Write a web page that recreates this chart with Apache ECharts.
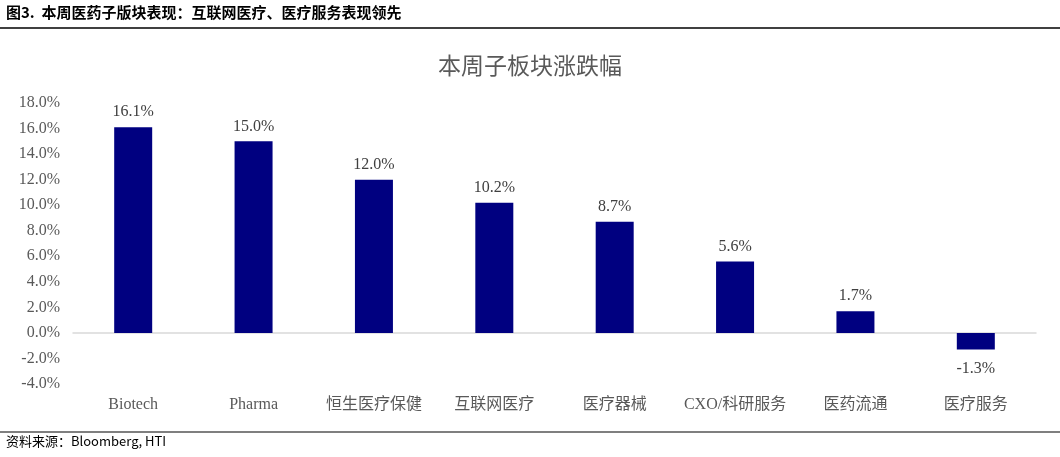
<!DOCTYPE html>
<html>
<head>
<meta charset="utf-8">
<script src="https://cdn.jsdelivr.net/npm/echarts@6/dist/echarts.min.js"></script>
<style>
  html, body { margin: 0; padding: 0; background: #fff; }
  #main { width: 1060px; height: 457px; }
</style>
</head>
<body>
<div id="main"></div>
<script>
var categories = ['Biotech', 'Pharma', '恒生医疗保健', '互联网医疗', '医疗器械', 'CXO/科研服务', '医药流通', '医疗服务'];
var weeklyChange = [16.1, 15.0, 12.0, 10.2, 8.7, 5.6, 1.7, -1.3];
var yMin = -4, yMax = 18, yStep = 2;

var serif = '"Liberation Serif", "Times New Roman", "Noto Sans CJK SC", serif';
var myChart = echarts.init(document.getElementById('main'));

var option = {
    backgroundColor: '#fff',
    animation: false,
    title: {
        text: '本周子板块涨跌幅',
        left: 'center',
        top: 51,
        textStyle: { fontFamily: serif, fontSize: 23, fontWeight: 'normal', color: '#595959' }
    },
    graphic: [
        {
            type: 'text', left: 6, top: 5,
            style: { text: '图3.  本周医药子版块表现：互联网医疗、医疗服务表现领先', font: 'bold 15px "Noto Sans CJK SC", sans-serif', fill: '#000' }
        },
        {
            type: 'line', shape: { x1: 0, y1: 28, x2: 1060, y2: 28 },
            style: { stroke: '#000', lineWidth: 1.5 }
        },
        {
            type: 'line', shape: { x1: 0, y1: 432, x2: 1060, y2: 432 },
            style: { stroke: '#555', lineWidth: 1.5 }
        },
        {
            type: 'text', left: 6, top: 435,
            style: { text: '资料来源：Bloomberg, HTI', font: '13px "Noto Sans CJK SC", "Liberation Sans", sans-serif', fill: '#000' }
        }
    ],
    grid: { left: 73, right: 24, top: 103, bottom: 73 },
    xAxis: {
        type: 'category',
        data: categories,
        axisLine: { onZero: true, lineStyle: { color: '#d9d9d9', width: 1.5 } },
        axisTick: { show: false },
        axisLabel: {
            interval: 0,
            margin: 13,
            fontFamily: serif,
            fontSize: 16,
            color: '#595959'
        },
        position: 'bottom'
    },
    yAxis: {
        type: 'value',
        min: yMin,
        max: yMax,
        interval: yStep,
        splitLine: { show: false },
        axisLine: { show: false },
        axisTick: { show: false },
        axisLabel: {
            margin: 13,
            fontFamily: serif,
            fontSize: 16,
            color: '#595959',
            formatter: function (v) { return v.toFixed(1) + '%'; }
        }
    },
    series: [
        {
            type: 'bar',
            data: weeklyChange.map(function (v) {
                return {
                    value: v,
                    label: { position: v < 0 ? 'bottom' : 'top', distance: v < 0 ? 11 : 7 }
                };
            }),
            barWidth: 38,
            itemStyle: { color: '#000080' },
            label: {
                show: true,
                fontFamily: serif,
                fontSize: 16,
                color: '#404040',
                formatter: function (p) { return p.value.toFixed(1) + '%'; }
            }
        }
    ]
};

myChart.setOption(option);
</script>
</body>
</html>
